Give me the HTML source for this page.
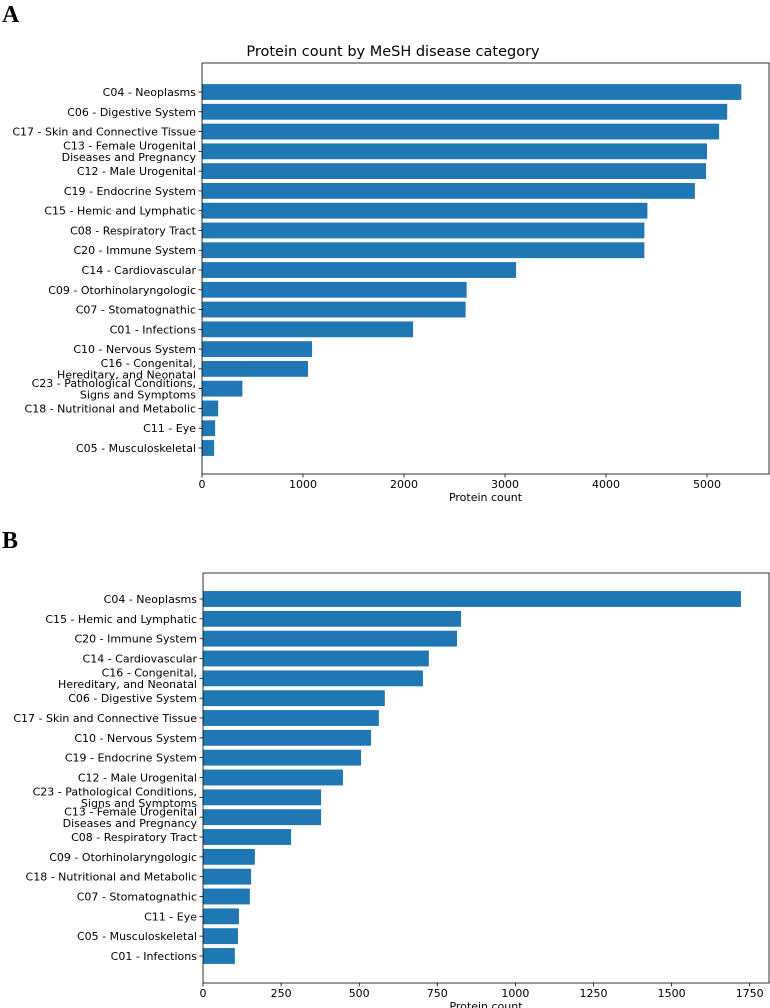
<!DOCTYPE html>
<html><head><meta charset="utf-8"><style>
body{margin:0;background:#fff;}
svg{display:block;font-family:"DejaVu Sans","Liberation Sans",sans-serif;}
</style></head><body>
<svg id="c" width="770" height="1008" xmlns="http://www.w3.org/2000/svg">
<text x="2" y="22" font-family="Liberation Serif,serif" font-weight="bold" font-size="24">A</text>
<text x="2" y="548" font-family="Liberation Serif,serif" font-weight="bold" font-size="24">B</text>
<text x="393" y="56" text-anchor="middle" font-size="14.5">Protein count by MeSH disease category</text>
</svg>
<script>
const catsA=["C04 - Neoplasms","C06 - Digestive System","C17 - Skin and Connective Tissue","C13 - Female Urogenital|Diseases and Pregnancy","C12 - Male Urogenital","C19 - Endocrine System","C15 - Hemic and Lymphatic","C08 - Respiratory Tract","C20 - Immune System","C14 - Cardiovascular","C09 - Otorhinolaryngologic","C07 - Stomatognathic","C01 - Infections","C10 - Nervous System","C16 - Congenital,|Hereditary, and Neonatal","C23 - Pathological Conditions,|Signs and Symptoms","C18 - Nutritional and Metabolic","C11 - Eye","C05 - Musculoskeletal"];
const valsA=[5340,5200,5120,5000,4990,4880,4410,4380,4380,3110,2620,2610,2090,1090,1050,400,160,130,120];
const ticksA=[0,1000,2000,3000,4000,5000];
const catsB=["C04 - Neoplasms","C15 - Hemic and Lymphatic","C20 - Immune System","C14 - Cardiovascular","C16 - Congenital,|Hereditary, and Neonatal","C06 - Digestive System","C17 - Skin and Connective Tissue","C10 - Nervous System","C19 - Endocrine System","C12 - Male Urogenital","C23 - Pathological Conditions,|Signs and Symptoms","C13 - Female Urogenital|Diseases and Pregnancy","C08 - Respiratory Tract","C09 - Otorhinolaryngologic","C18 - Nutritional and Metabolic","C07 - Stomatognathic","C11 - Eye","C05 - Musculoskeletal","C01 - Infections"];
const valsB=[1722,826,813,723,704,582,563,538,506,448,378,378,282,166,154,150,115,112,102];
const ticksB=[0,250,500,750,1000,1250,1500,1750];
const svg=document.getElementById('c');
const NS="http://www.w3.org/2000/svg";
function mk(t,a){const e=document.createElementNS(NS,t);for(const k in a)e.setAttribute(k,a[k]);svg.appendChild(e);return e;}
function panel(p,cats,vals,ticks,L,R,T,B,y0,y1,pxPerUnit){
  const x=v=>L+v*pxPerUnit;
  const step=(y1-y0)/(cats.length-1);
  const y=i=>y0+i*step;
  const bh=step*0.8;
  cats.forEach((c,i)=>{
    const r=mk('rect',{x:L,y:y(i)-bh/2,width:x(vals[i])-L,height:bh,fill:'#1f77b4'});
    
    
    mk('line',{x1:L-3.5,x2:L,y1:y(i),y2:y(i),stroke:'#000','stroke-width':0.8});
    const parts=c.split('|');
    parts.forEach((s,j)=>{
      const t=mk('text',{x:L-6,y:y(i)+4+(j-(parts.length-1)/2)*11.5,'text-anchor':'end','font-size':'11'});
      t.textContent=s;
      
      
    });
  });
  const f=mk('rect',{x:L,y:T,width:R-L,height:B-T,fill:'none',stroke:'#000','stroke-width':0.8});
  
  
  ticks.forEach(v=>{
    mk('line',{x1:x(v),x2:x(v),y1:B,y2:B+3.5,stroke:'#000','stroke-width':0.8});
    const t=mk('text',{x:x(v),y:B+14,'text-anchor':'middle','font-size':'11'});
    t.textContent=v;
    
    
  });
  const xl=mk('text',{x:(L+R)/2,y:B+27,'text-anchor':'middle','font-size':'11'});
  xl.textContent='Protein count';
  
  
}
panel('a',catsA,valsA,ticksA,202,769,63,474,92,448,101/1000);
panel('b',catsB,valsB,ticksB,203,769,573,983,599,956,78.1/250);
</script>
</body></html>
